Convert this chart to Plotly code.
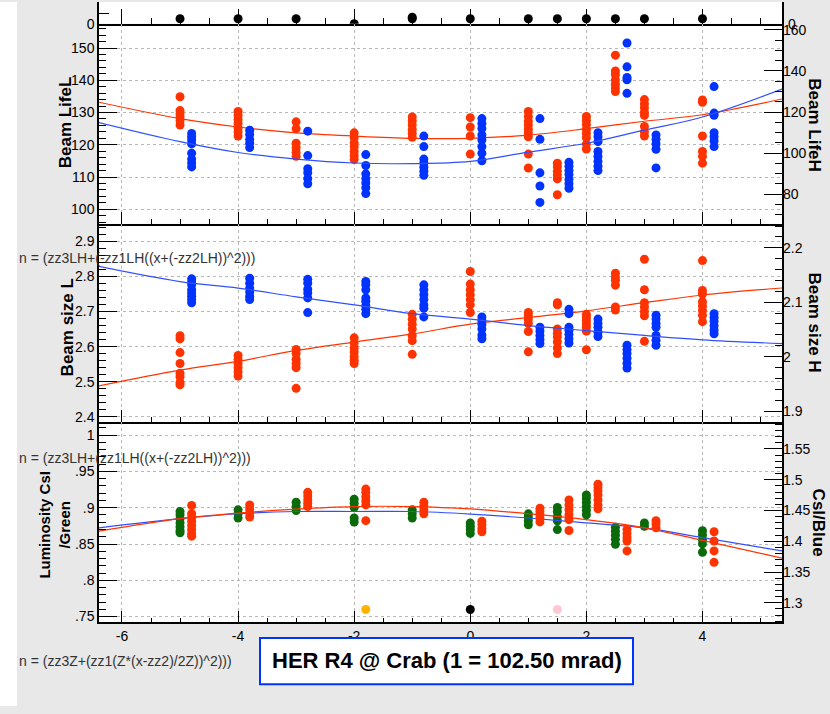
import plotly.graph_objects as go

W, H = 830, 714

# ---------------- data ----------------
red_x = [-5, -4, -3, -2, -1, 0, 1, 1.5, 2, 2.5, 3, 4]
blue_x = [-4.8, -3.8, -2.8, -1.8, -0.8, 0.2, 1.2, 1.7, 2.2, 2.7, 3.2, 4.2]

strip_x = [-5, -4, -3, -2, -1, -1, 0, 1, 1.5, 2, 2.5, 3, 4]
strip_y = [1, 1, 1, 0, 1, 1.3, 1, 1, 1, 1, 1, 1, 1]

life_L = [
    [134.9, 130.6, 129.6, 128.6, 127.4, 126.1],
    [130.3, 129.1, 127.8, 126.6, 125.2, 124.0, 122.7],
    [127.1, 125.0, 120.5, 119.1, 117.7, 116.4],
    [123.7, 122.2, 120.6, 119.4, 117.9, 116.6, 115.4],
    [128.6, 127.4, 126.1, 124.7, 123.5, 122.3],
    [128.4, 125.5, 122.7, 117.1],
    [130.3, 128.8, 127.3, 126.1, 124.8, 123.7, 122.5, 117.1, 112.8],
    [114.3, 113.2, 111.8, 110.6, 109.4, 104.5],
    [128.8, 127.6, 126.3, 124.8, 123.5, 122.2, 120.2, 118.7],
    [147.8, 142.9, 141.7, 140.1, 138.8, 137.6, 136.5],
    [134.0, 132.7, 131.5, 130.1, 129.1, 125.7, 124.0, 122.7],
    [133.9, 133.2, 122.7, 117.9, 116.4, 114.3],
]
life_H = [
    [109.6, 108.0, 106.4, 104.5, 100.0, 97.1, 95.2, 93.3],
    [111.2, 109.1, 106.7, 104.8, 102.7],
    [110.7, 98.8, 92.4, 90.4, 87.6, 85.1],
    [99.3, 94.0, 89.9, 87.6, 85.5, 83.2, 80.3],
    [108.3, 103.2, 97.1, 95.2, 93.1, 91.2, 89.2],
    [116.8, 114.4, 112.0, 108.8, 106.4, 103.2, 100.0, 96.3],
    [116.8, 106.7, 90.4, 84.0, 76.0],
    [95.5, 93.6, 91.5, 89.6, 87.2, 85.1, 82.9],
    [109.9, 108.0, 105.6, 100.8, 98.4, 96.0, 93.6, 91.5],
    [153.6, 142.0, 136.8, 135.7, 129.1],
    [108.8, 106.7, 104.5, 101.9, 92.8],
    [132.4, 119.5, 118.4, 109.9, 108.0, 105.9, 103.2],
]
size_L = [
    [2.631, 2.622, 2.583, 2.552, 2.524, 2.514, 2.498, 2.491],
    [2.575, 2.563, 2.552, 2.540, 2.528, 2.516],
    [2.592, 2.580, 2.564, 2.552, 2.540, 2.481],
    [2.625, 2.610, 2.596, 2.585, 2.572, 2.561, 2.552],
    [2.692, 2.678, 2.664, 2.650, 2.631, 2.617, 2.578],
    [2.814, 2.778, 2.762, 2.748, 2.734, 2.719, 2.697],
    [2.697, 2.688, 2.678, 2.666, 2.643, 2.585],
    [2.725, 2.719, 2.650, 2.638, 2.627, 2.613, 2.596, 2.580],
    [2.692, 2.683, 2.674, 2.664, 2.655, 2.644, 2.591],
    [2.809, 2.797, 2.788, 2.775, 2.713, 2.704],
    [2.849, 2.762, 2.725, 2.713, 2.700, 2.688, 2.615],
    [2.845, 2.760, 2.750, 2.728, 2.716, 2.703, 2.689, 2.671],
]
size_H = [
    [2.143, 2.137, 2.132, 2.123, 2.117, 2.111, 2.105, 2.099],
    [2.144, 2.135, 2.126, 2.119, 2.111, 2.105],
    [2.142, 2.135, 2.124, 2.117, 2.108, 2.081],
    [2.138, 2.132, 2.123, 2.108, 2.102, 2.094, 2.087, 2.079],
    [2.132, 2.123, 2.114, 2.105, 2.095, 2.089, 2.073],
    [2.073, 2.066, 2.059, 2.051, 2.040, 2.033],
    [2.054, 2.047, 2.039, 2.031, 2.024],
    [2.087, 2.079, 2.054, 2.048, 2.041, 2.033, 2.025],
    [2.069, 2.061, 2.054, 2.045, 2.037],
    [2.021, 2.013, 2.006, 1.997, 1.988, 1.979],
    [2.076, 2.069, 2.061, 2.054, 2.039, 2.030, 2.021],
    [2.079, 2.072, 2.065, 2.057, 2.049, 2.042],
]
lumi_green = [
    [0.8948, 0.8904, 0.8849, 0.8791, 0.8736, 0.8686, 0.8655],
    [0.8971, 0.8916, 0.8858],
    [0.9076, 0.9016, 0.8961],
    [0.9117, 0.9062, 0.9003, 0.8859, 0.8804],
    [0.8971, 0.8916, 0.8858],
    [0.8790, 0.8745, 0.8700, 0.8646],
    [0.8916, 0.8871, 0.8821, 0.8766],
    [0.9003, 0.8948, 0.8880, 0.8821, 0.8699],
    [0.9175, 0.9130, 0.9076, 0.9016, 0.8961, 0.8903],
    [0.8731, 0.8677, 0.8622, 0.8564, 0.8496],
    [0.8790, 0.8745],
    [0.8682, 0.8624, 0.8560, 0.8501, 0.8387],
]
lumi_red = [
    [1.458, 1.4447, 1.4388, 1.4324, 1.4255, 1.4191, 1.4127, 1.4083],
    [1.4591, 1.4522, 1.4458, 1.4394],
    [1.4795, 1.4736, 1.4671, 1.4619, 1.4564],
    [1.4848, 1.4795, 1.4724, 1.4655, 1.4591, 1.4335],
    [1.4635, 1.4575, 1.4511, 1.4447],
    [1.4324, 1.4271, 1.4207, 1.4154],
    [1.4538, 1.4484, 1.4431, 1.4378, 1.4314],
    [1.4671, 1.4591, 1.4511, 1.4431, 1.4351, 1.4175],
    [1.4928, 1.4875, 1.4816, 1.4752, 1.4671, 1.4591, 1.4527],
    [1.4191, 1.4122, 1.4058, 1.4003, 1.3843],
    [1.4335, 1.4282, 1.4218],
    [1.4154, 1.4003, 1.3843, 1.3657],
]
marker_x = [-1.8, 0, 1.5]
marker_y = [0.7597, 0.7597, 0.7597]
marker_colors = ["#ffb300", "#000000", "#ffc8d2"]

fit_x = [-6.4, -5, -4, -3, -2, -1, 0, 1, 2, 3, 4, 5.37]
life_fit_L = [133.2, 128.1, 125.5, 123.7, 122.7, 122.0, 122.0, 123.0, 125.0, 127.3, 129.3, 134.2]
life_fit_H = [114.9, 105.6, 100.3, 97.1, 95.2, 94.9, 96.0, 100.5, 104.8, 111.2, 117.6, 131.2]
size_fit_L = [2.488, 2.533, 2.558, 2.589, 2.613, 2.636, 2.664, 2.683, 2.702, 2.725, 2.747, 2.767]
size_fit_H = [2.166, 2.138, 2.126, 2.110, 2.095, 2.079, 2.069, 2.057, 2.048, 2.039, 2.031, 2.024]
lumi_fit_green = [0.8723, 0.8849, 0.8917, 0.8948, 0.8948, 0.8948, 0.8913, 0.8858, 0.8791, 0.8723, 0.8587, 0.8405]
lumi_fit_red = [1.4164, 1.4367, 1.4458, 1.4522, 1.4564, 1.4564, 1.4527, 1.4447, 1.4351, 1.4218, 1.4014, 1.3726]

x_ticks = [-6, -4, -2, 0, 2, 4]
x_ticktext = ["-6", "-4", "-2", "0", "2", "4"]
life_L_ticks = [100, 110, 120, 130, 140, 150]
life_H_ticks = [80, 100, 120, 140, 160]
size_L_ticks = [2.4, 2.5, 2.6, 2.7, 2.8, 2.9]
size_H_ticks = [1.9, 2.0, 2.1, 2.2]
size_H_text = ["1.9", "2", "2.1", "2.2"]
lumi_L_ticks = [0.75, 0.8, 0.85, 0.9, 0.95, 1.0]
lumi_L_text = [".75", ".8", ".85", ".9", ".95", "1"]
lumi_R_ticks = [1.3, 1.35, 1.4, 1.45, 1.5, 1.55]
lumi_R_text = ["1.3", "1.35", "1.4", "1.45", "1.5", "1.55"]

title_text = "HER R4 @ Crab (1 = 102.50 mrad)"
fit_labels = ["n = (zz3LH+(-zz1LH((x+(-zz2LH))^2)))",
              "n = (zz3LH+(zz1LH((x+(-zz2LH))^2)))",
              "n = (zz3Z+(zz1(Z*(x-zz2)/2Z))^2)))"]

# ---------------- helpers ----------------
RED = "#ff3300"
BLUE = "#0033ff"
GREEN = "#0b6b0b"
FONT = "Liberation Sans, Arial, Helvetica, sans-serif"


def flat(xs, groups):
    ox, oy = [], []
    for x, g in zip(xs, groups):
        for v in g:
            ox.append(x)
            oy.append(v)
    return ox, oy


def pxx(x):
    return x / W


def pyy(y):
    return 1 - y / H


X0, X1 = 99, 782
dom_x = [pxx(X0), pxx(X1)]
strip_dom = [pyy(22), pyy(0)]
p1_dom = [pyy(225), pyy(22)]
p2_dom = [pyy(426), pyy(225)]
p3_dom = [pyy(629.3), pyy(426)]
XR = [-6.396, 5.370]

fig = go.Figure()

mk = dict(size=9, line=dict(width=0))

# strip
fig.add_trace(go.Scatter(x=strip_x, y=strip_y, mode="markers", marker=dict(color="black", **mk),
                         xaxis="x", yaxis="y", showlegend=False))
# panel 1
x, y = flat(red_x, life_L)
fig.add_trace(go.Scatter(x=x, y=y, mode="markers", marker=dict(color=RED, **mk), xaxis="x2", yaxis="y2", showlegend=False))
fig.add_trace(go.Scatter(x=fit_x, y=life_fit_L, mode="lines", line=dict(color=RED, width=1.2, shape="spline"), xaxis="x2", yaxis="y2", showlegend=False))
x, y = flat(blue_x, life_H)
fig.add_trace(go.Scatter(x=x, y=y, mode="markers", marker=dict(color=BLUE, **mk), xaxis="x2", yaxis="y5", showlegend=False))
fig.add_trace(go.Scatter(x=fit_x, y=life_fit_H, mode="lines", line=dict(color="#3050ff", width=1.2, shape="spline"), xaxis="x2", yaxis="y5", showlegend=False))
# panel 2
x, y = flat(red_x, size_L)
fig.add_trace(go.Scatter(x=x, y=y, mode="markers", marker=dict(color=RED, **mk), xaxis="x3", yaxis="y3", showlegend=False))
fig.add_trace(go.Scatter(x=fit_x, y=size_fit_L, mode="lines", line=dict(color=RED, width=1.2, shape="spline"), xaxis="x3", yaxis="y3", showlegend=False))
x, y = flat(blue_x, size_H)
fig.add_trace(go.Scatter(x=x, y=y, mode="markers", marker=dict(color=BLUE, **mk), xaxis="x3", yaxis="y6", showlegend=False))
fig.add_trace(go.Scatter(x=fit_x, y=size_fit_H, mode="lines", line=dict(color="#3050ff", width=1.2, shape="spline"), xaxis="x3", yaxis="y6", showlegend=False))
# panel 3
x, y = flat(red_x, lumi_green)
fig.add_trace(go.Scatter(x=x, y=y, mode="markers", marker=dict(color=GREEN, **mk), xaxis="x4", yaxis="y4", showlegend=False))
fig.add_trace(go.Scatter(x=fit_x, y=lumi_fit_green, mode="lines", line=dict(color="#3050ff", width=1.2, shape="spline"), xaxis="x4", yaxis="y4", showlegend=False))
fig.add_trace(go.Scatter(x=marker_x, y=marker_y, mode="markers", marker=dict(color=marker_colors, **mk), xaxis="x4", yaxis="y4", showlegend=False))
x, y = flat(blue_x, lumi_red)
fig.add_trace(go.Scatter(x=x, y=y, mode="markers", marker=dict(color=RED, **mk), xaxis="x4", yaxis="y7", showlegend=False))
fig.add_trace(go.Scatter(x=fit_x, y=lumi_fit_red, mode="lines", line=dict(color=RED, width=1.2, shape="spline"), xaxis="x4", yaxis="y7", showlegend=False))

tickfont = dict(family=FONT, size=14, color="black")
LW = 1.5


def xax(anchor, show_labels=False, grid=True, ticklen=12, mirror=False, minor_len=5):
    d = dict(domain=dom_x, anchor=anchor, range=XR, showline=True, linecolor="black", linewidth=LW,
             mirror=mirror, ticks="inside", tickcolor="black", ticklen=ticklen, tickwidth=1,
             tickmode="array", tickvals=x_ticks, ticktext=x_ticktext, showticklabels=show_labels,
             tickfont=tickfont, showgrid=grid, gridcolor="#b8b8b8", griddash="dot", gridwidth=1,
             zeroline=False,
             minor=dict(ticks="inside", ticklen=minor_len, tickcolor="black", tickwidth=1,
                        tickmode="linear", tick0=0, dtick=0.5, showgrid=False))
    return d


def yleft(dom, anchor, rng, tv, tt, minor_dt, grid=True):
    return dict(domain=dom, anchor=anchor, range=rng, showline=True, linecolor="black", linewidth=LW,
                mirror=True, ticks="inside", tickcolor="black", ticklen=18, tickwidth=1,
                tickmode="array", tickvals=tv, ticktext=tt, tickfont=tickfont,
                showgrid=grid, gridcolor="#b8b8b8", griddash="dot", gridwidth=1, zeroline=False,
                minor=dict(ticks="inside", ticklen=7, tickcolor="black", tickwidth=1,
                           tickmode="linear", tick0=0, dtick=minor_dt, showgrid=False))


def yright(over, anchor, rng, tv, tt, minor_dt):
    return dict(overlaying=over, anchor=anchor, side="right", range=rng, showline=False,
                ticks="inside", tickcolor="black", ticklen=18, tickwidth=1,
                tickmode="array", tickvals=tv, ticktext=tt, tickfont=tickfont,
                showgrid=False, zeroline=False,
                minor=dict(ticks="inside", ticklen=7, tickcolor="black", tickwidth=1,
                           tickmode="linear", tick0=0, dtick=minor_dt, showgrid=False))


layout = dict(
    width=W, height=H, margin=dict(l=0, r=0, t=0, b=0),
    paper_bgcolor="#e8e8e8", plot_bgcolor="white", showlegend=False,
    xaxis=xax("y", grid=False, ticklen=15, minor_len=6),
    xaxis2=xax("y2"), xaxis3=xax("y3"), xaxis4=xax("y4", show_labels=True),
    yaxis=dict(domain=strip_dom, anchor="x", range=[0, 4.4], showline=True, linecolor="black", linewidth=LW,
               mirror=True, ticks="inside", tickcolor="black", ticklen=10, tickwidth=1,
               tickmode="array", tickvals=[0, 2], ticktext=["0", ""], tickfont=tickfont,
               showgrid=False, zeroline=False),
    yaxis2=yleft(p1_dom, "x2", [95.47, 157.55], life_L_ticks, [str(v) for v in life_L_ticks], 2),
    yaxis3=yleft(p2_dom, "x3", [2.3851, 2.9497], size_L_ticks, [f"{v:.1f}" for v in size_L_ticks], 0.02),
    yaxis4=yleft(p3_dom, "x4", [0.74185, 1.01807], lumi_L_ticks, lumi_L_text, 0.01),
    yaxis5=yright("y2", "x2", [65.57, 163.02], life_H_ticks, [str(v) for v in life_H_ticks], 5),
    yaxis6=yright("y3", "x3", [1.8799, 2.2440], size_H_ticks, size_H_text, 0.02),
    yaxis7=yright("y4", "x4", [1.26795, 1.59375], lumi_R_ticks, lumi_R_text, 0.01),
)
fig.update_layout(**layout)

shapes = [
    dict(type="rect", xref="paper", yref="paper", x0=0, x1=pxx(17), y0=0, y1=1,
         fillcolor="white", line=dict(width=0), layer="below"),
    dict(type="rect", xref="paper", yref="paper", x0=pxx(260), x1=pxx(633), y0=pyy(692), y1=pyy(645),
         fillcolor="white", line=dict(color=BLUE, width=2), layer="above"),
]
fig.update_layout(shapes=shapes)

bold = dict(family=FONT, size=17, color="black")
ann = []


def a(text, x, y, angle=0, font=None, xanchor="center"):
    ann.append(dict(text=text, x=pxx(x), y=pyy(y), xref="paper", yref="paper", showarrow=False,
                    textangle=angle, font=font or bold, xanchor=xanchor, yanchor="middle"))


a("<b>Beam LifeL</b>", 65, 122, -90)
a("<b>Beam size L</b>", 67, 330, -90)
a("<b>Luminosity CsI<br>/Green</b>", 55, 530, -90, font=dict(family=FONT, size=15, color="black"))
a("<b>Beam LifeH</b>", 815, 125, 90)
a("<b>Beam size H</b>", 815, 325, 90)
a("<b>CsI/Blue</b>", 818, 528, 90)
a("0", 786, 22, 0, font=tickfont, xanchor="left")
a("<b>" + title_text + "</b>", 446.5, 668, 0, font=dict(family=FONT, size=22, color="black"))

junk = dict(family=FONT, size=14, color="#333333")
a(fit_labels[0], 17, 260, 0, font=junk, xanchor="left")
a(fit_labels[1], 17, 462, 0, font=junk, xanchor="left")
a(fit_labels[2], 17, 668, 0, font=junk, xanchor="left")

fig.update_layout(annotations=ann)

fig.write_html("out.html")
